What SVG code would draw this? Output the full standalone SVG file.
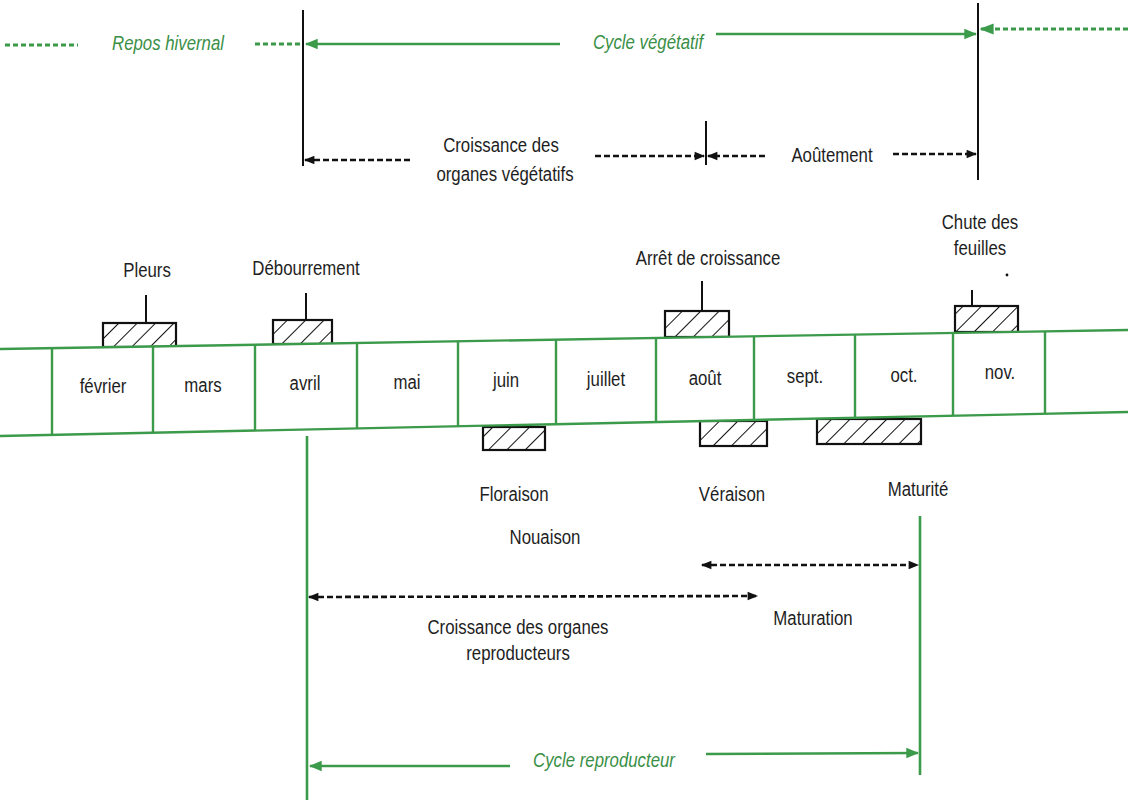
<svg xmlns="http://www.w3.org/2000/svg" width="1128" height="810" viewBox="0 0 1128 810">
<style>
text{font-family:"Liberation Sans",Arial,sans-serif;font-size:21px;fill:#1e1e1e;text-anchor:middle}
.it{font-style:italic;fill:#3a8f46}
.g{stroke:#3c9a4b;stroke-width:2.6;fill:none}
.gd{stroke:#3c9a4b;stroke-width:2.8;fill:none;stroke-dasharray:5 3}
.k{stroke:#111;stroke-width:2;fill:none}
.kd{stroke:#111;stroke-width:2.6;fill:none;stroke-dasharray:6 3}
.band{stroke:#3c9a4b;stroke-width:2.4;fill:none}
.box{fill:url(#hatch);stroke:#111;stroke-width:2.2}
</style>
<defs>
<pattern id="hatch" patternUnits="userSpaceOnUse" width="13" height="13" patternTransform="rotate(45)">
<rect width="13" height="13" fill="#fff"/>
<line x1="0" y1="0" x2="0" y2="13" stroke="#111" stroke-width="2"/>
</pattern>
<marker id="ga" viewBox="0 0 10 10" refX="9" refY="5" markerWidth="5" markerHeight="5" orient="auto-start-reverse"><path d="M0,1 L10,5 L0,9 Z" fill="#3c9a4b"/></marker>
<marker id="ka" viewBox="0 0 10 10" refX="9" refY="5" markerWidth="5" markerHeight="4" orient="auto-start-reverse"><path d="M0,1 L10,5 L0,9 Z" fill="#111"/></marker>
</defs>

<g id="connectors">
<line class="gd" x1="5" y1="45" x2="78" y2="45"/>
<line class="gd" x1="255" y1="44" x2="300" y2="44"/>
<line class="g" x1="560" y1="44" x2="306" y2="44" marker-end="url(#ga)"/>
<line class="g" x1="716" y1="34" x2="976" y2="34" marker-end="url(#ga)"/>
<line class="gd" x1="1128" y1="29" x2="981" y2="29" marker-end="url(#ga)"/>
<line class="k" x1="303" y1="10" x2="303" y2="166"/>
<line class="k" x1="978" y1="3" x2="978" y2="180"/>
<line class="k" x1="706" y1="121" x2="706" y2="165"/>
<line class="kd" x1="410" y1="160" x2="305" y2="160" marker-end="url(#ka)"/>
<line class="kd" x1="595" y1="156" x2="704" y2="156" marker-end="url(#ka)"/>
<line class="kd" x1="765" y1="156" x2="708" y2="156" marker-end="url(#ka)"/>
<line class="kd" x1="893" y1="154" x2="976" y2="154" marker-end="url(#ka)"/>
<line class="k" x1="146" y1="295" x2="146" y2="345"/>
<line class="k" x1="306" y1="293" x2="306" y2="342"/>
<line class="k" x1="702" y1="281" x2="702" y2="334"/>
<line class="k" x1="972" y1="290" x2="972" y2="328"/>
<line class="g" x1="307" y1="436" x2="307" y2="800"/>
<line class="g" x1="920" y1="516" x2="920" y2="775"/>
<line class="kd" x1="702" y1="565" x2="918" y2="565" marker-start="url(#ka)" marker-end="url(#ka)"/>
<line class="kd" x1="309" y1="597" x2="757" y2="596" marker-start="url(#ka)" marker-end="url(#ka)"/>
<line class="g" x1="510" y1="766" x2="310" y2="766" marker-end="url(#ga)"/>
<line class="g" x1="706" y1="754" x2="918" y2="753" marker-end="url(#ga)"/>
</g>

<g id="hatch-boxes">
<rect class="box" x="103" y="323" width="73" height="24"/>
<rect class="box" x="273" y="320" width="59" height="24"/>
<rect class="box" x="665" y="311" width="64" height="26"/>
<rect class="box" x="955" y="306" width="63" height="26"/>
<rect class="box" x="483" y="427" width="62" height="23"/>
<rect class="box" x="700" y="421" width="67" height="25"/>
<rect class="box" x="817" y="419" width="104" height="25"/>
</g>

<g id="timeline">
<polygon points="0,349 1128,330 1128,412 0,436" fill="#fff"/>
<line class="band" x1="0" y1="349" x2="1128" y2="330"/>
<line class="band" x1="0" y1="436" x2="1128" y2="412"/>
<line class="band" x1="52" y1="348" x2="52" y2="435"/>
<line class="band" x1="153" y1="346.4" x2="153" y2="432.7"/>
<line class="band" x1="255" y1="344.7" x2="255" y2="430.6"/>
<line class="band" x1="357" y1="343" x2="357" y2="428.4"/>
<line class="band" x1="458" y1="341.3" x2="458" y2="426.3"/>
<line class="band" x1="556" y1="339.6" x2="556" y2="424.2"/>
<line class="band" x1="656" y1="338" x2="656" y2="422"/>
<line class="band" x1="754" y1="336.3" x2="754" y2="420"/>
<line class="band" x1="855" y1="334.6" x2="855" y2="417.8"/>
<line class="band" x1="953" y1="332.9" x2="953" y2="415.7"/>
<line class="band" x1="1045" y1="331.4" x2="1045" y2="413.8"/>
<text transform="translate(103 393) scale(.8 1)">février</text>
<text transform="translate(203 392) scale(.8 1)">mars</text>
<text transform="translate(305 390) scale(.8 1)">avril</text>
<text transform="translate(407 389) scale(.8 1)">mai</text>
<text transform="translate(506 387) scale(.8 1)">juin</text>
<text transform="translate(606 386) scale(.8 1)">juillet</text>
<text transform="translate(705 385) scale(.8 1)">août</text>
<text transform="translate(805 383) scale(.8 1)">sept.</text>
<text transform="translate(904 382) scale(.8 1)">oct.</text>
<text transform="translate(1000 379) scale(.8 1)">nov.</text>
</g>

<g id="labels">
<text class="it" transform="translate(168 50) scale(.8 1)">Repos hivernal</text>
<text class="it" transform="translate(648 49) scale(.8 1)">Cycle végétatif</text>
<text transform="translate(501 152) scale(.8 1)">Croissance des</text>
<text transform="translate(505 181) scale(.8 1)">organes végétatifs</text>
<text transform="translate(832 162) scale(.8 1)">Aoûtement</text>
<text transform="translate(147 277) scale(.8 1)">Pleurs</text>
<text transform="translate(306 275) scale(.8 1)">Débourrement</text>
<text transform="translate(708 265) scale(.8 1)">Arrêt de croissance</text>
<text transform="translate(980 229) scale(.8 1)">Chute des</text>
<text transform="translate(980 255) scale(.8 1)">feuilles</text>
<circle cx="1007" cy="275" r="1.4" fill="#111"/>
<text transform="translate(514 501) scale(.8 1)">Floraison</text>
<text transform="translate(732 501) scale(.8 1)">Véraison</text>
<text transform="translate(918 496) scale(.8 1)">Maturité</text>
<text transform="translate(545 544) scale(.8 1)">Nouaison</text>
<text transform="translate(813 625) scale(.8 1)">Maturation</text>
<text transform="translate(518 634) scale(.8 1)">Croissance des organes</text>
<text transform="translate(518 660) scale(.8 1)">reproducteurs</text>
<text class="it" transform="translate(604 767) scale(.8 1)">Cycle reproducteur</text>
</g>
</svg>
